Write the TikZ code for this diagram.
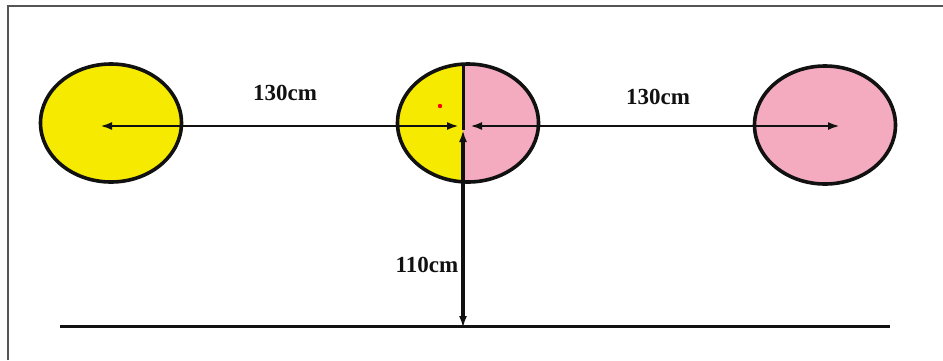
\documentclass[tikz,border=0pt]{standalone}
\usepackage{fontspec}
\setmainfont{Liberation Serif}
\usetikzlibrary{arrows.meta,shapes.geometric}
\definecolor{cyel}{HTML}{F5EA00}
\definecolor{cpink}{HTML}{F4ABBF}
\definecolor{cink}{HTML}{111111}
\definecolor{cframe}{HTML}{555555}
\tikzset{>={Latex[length=12pt,width=8pt]},
  ball/.style={ellipse,draw=cink,line width=3.6pt,minimum width=141pt,minimum height=118pt,inner sep=0pt},
  dim/.style={line width=2.4pt,draw=cink},
  lbl/.style={font=\fontsize{23}{23}\selectfont\bfseries,text=cink}}

\begin{document}
\begin{tikzpicture}[x=1pt,y=-1pt]
\useasboundingbox (0,0) rectangle (943,360);
\draw[cframe,line width=1.8pt] (8,360) -- (8,6) -- (943,6);

% ================= the three balls =================
\node[ball,fill=cyel] (L) at (111,123) {};
\node[ball,fill=cpink,path picture={\fill[cyel] ([xshift=-5pt]path picture bounding box.north) rectangle (path picture bounding box.south west);}] (M) at (468,123) {};
\node[ball,fill=cpink] (R) at (825,125) {};
\fill[red] (440,106) circle (2.2pt);

% ================= ground and end points =================
\coordinate (lend) at (100,126);
\coordinate (mleft) at (459,126);
\coordinate (mright) at (470,126);
\coordinate (rend) at (840,126);
\coordinate (mtop) at (463,64);
\coordinate (mc) at (463,130);
\coordinate (foot) at (463,328);
\coordinate (gl) at (60,326);
\coordinate (gr) at (890,326);
\draw[line width=3pt,cink] (gl) -- (gr);

% ================= distances =================
\draw[<->,dim] (lend) -- (mleft);
\draw[<->,dim] (mright) -- (rend);
\draw[line width=3pt,cink] (mtop) -- (mc);
\draw[<->,line width=3.6pt,cink] (mc) -- (foot);
\node[lbl] (d1) at (285,93) {130cm};
\node[lbl] (d2) at (658,97) {130cm};
\node[lbl] (d3) at (427,265) {110cm};

\end{tikzpicture}
\end{document}
